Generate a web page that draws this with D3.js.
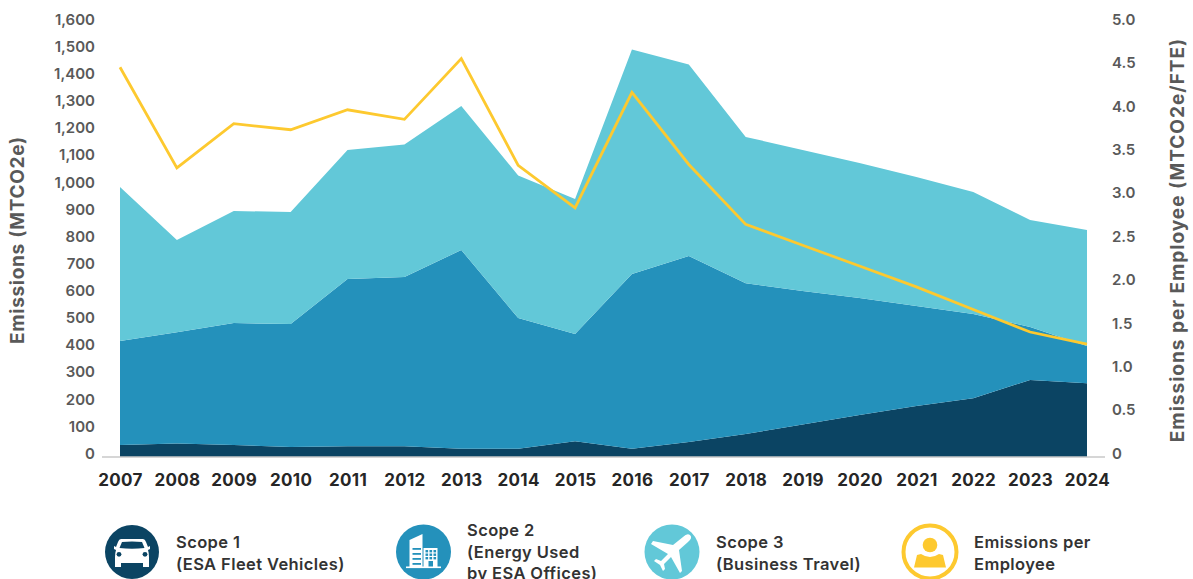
<!DOCTYPE html>
<html>
<head>
<meta charset="utf-8">
<script src="https://cdn.jsdelivr.net/npm/d3@7"></script>
<style>
    html, body { margin: 0; background: #fff; }
    svg { display: block; }
    text { font-family: "Inter", "Noto Sans", sans-serif; }
    .left-axis text, .right-axis text { fill: #595959; font-size: 15px; font-weight: 600; }
    .x-axis text { fill: #262626; font-size: 17px; font-weight: 700; letter-spacing: 0.3px; }
    .axis-title { fill: #595959; font-size: 19px; font-weight: 700; }
    .legend-label { fill: #333; font-size: 16.5px; font-weight: 600; letter-spacing: 0.4px; }
</style>
</head>
<body>
<div id="chart"></div>
<script>
const years = [2007, 2008, 2009, 2010, 2011, 2012, 2013, 2014, 2015, 2016, 2017, 2018, 2019, 2020, 2021, 2022, 2023, 2024];

// values
const scope1 = [44, 50, 44, 37, 40, 40, 30, 30, 58, 30, 55, 85, 120, 155, 188, 217, 284, 272];
const scope2 = [384, 410, 450, 453, 616, 624, 733, 482, 395, 645, 686, 556, 492, 431, 369, 310, 195, 137];
const scope3 = [567, 340, 413, 413, 476, 488, 531, 526, 498, 827, 706, 539, 520, 498, 475, 450, 395, 428];
const perEmployee = [4.49, 3.33, 3.84, 3.77, 4.0, 3.89, 4.59, 3.36, 2.87, 4.2, 3.37, 2.68, 2.44, 2.2, 1.96, 1.7, 1.44, 1.3];

const leftTicks = d3.range(0, 1601, 100);
const rightTicks = [0, 0.5, 1, 1.5, 2, 2.5, 3, 3.5, 4, 4.5, 5];

const seriesKeys = ["scope1", "scope2", "scope3"];
const seriesColors = ["#0b4463", "#2491bb", "#62c8d8"];
const lineColor = "#fdc92f";

const width = 1193, height = 579;
const margin = {top: 23, right: 106, bottom: 122, left: 120};

const svg = d3.select("#chart").append("svg")
    .attr("width", width)
    .attr("height", height);

// Scales
const x = d3.scalePoint().domain(years).range([margin.left, width - margin.right]);
const yLeft = d3.scaleLinear().domain([0, 1600]).range([height - margin.bottom, margin.top]);
const yRight = d3.scaleLinear().domain([0, 5]).range([height - margin.bottom, margin.top]);

const table = years.map((year, i) => ({year: year, scope1: scope1[i], scope2: scope2[i], scope3: scope3[i]}));
const stacked = d3.stack().keys(seriesKeys)(table);

const area = d3.area()
    .x(d => x(d.data.year))
    .y0(d => yLeft(d[0]))
    .y1(d => yLeft(d[1]));

svg.selectAll(".area")
    .data(stacked)
    .enter().append("path")
    .attr("class", "area")
    .attr("d", area)
    .attr("fill", (d, i) => seriesColors[i]);

// baseline sticks out a bit on both sides
svg.append("line")
    .attr("x1", margin.left - 18).attr("x2", width - margin.right + 18)
    .attr("y1", yLeft(0)).attr("y2", yLeft(0))
    .attr("stroke", "#c8c8c8").attr("stroke-width", 1.5);

svg.append("path")
    .datum(perEmployee)
    .attr("fill", "none")
    .attr("stroke", lineColor)
    .attr("stroke-width", 2.8)
    .attr("d", d3.line().x((d, i) => x(years[i])).y(d => yRight(d)));

// Axes
const leftAxis = d3.axisLeft(yLeft).tickValues(leftTicks).tickSize(0).tickPadding(0)
    .tickFormat(d3.format(","));
svg.append("g").attr("class", "left-axis")
    .attr("transform", "translate(95,-3.5)")
    .call(leftAxis)
    .call(g => g.select(".domain").remove());

const rightAxis = d3.axisRight(yRight).tickValues(rightTicks).tickSize(0).tickPadding(0)
    .tickFormat(d => d === 0 ? "0" : d3.format(".1f")(d));
svg.append("g").attr("class", "right-axis")
    .attr("transform", "translate(1112,-3.5)")
    .call(rightAxis)
    .call(g => g.select(".domain").remove());

const xAxis = d3.axisBottom(x).tickSize(0).tickPadding(0).tickFormat(d3.format("d"));
svg.append("g").attr("class", "x-axis")
    .attr("transform", "translate(0,474)")
    .call(xAxis)
    .call(g => g.select(".domain").remove());

svg.append("text").attr("class", "axis-title")
    .attr("transform", "translate(24,240) rotate(-90)")
    .attr("text-anchor", "middle")
    .attr("letter-spacing", 0.7)
    .text("Emissions (MTCO2e)");

svg.append("text").attr("class", "axis-title")
    .attr("transform", "translate(1184,240) rotate(-90)")
    .attr("text-anchor", "middle")
    .attr("letter-spacing", 1)
    .text("Emissions per Employee (MTCO2e/FTE)");

// Legend
const legendItems = [
    {cx: 132, color: seriesColors[0], textX: 176, lines: ["Scope 1", "(ESA Fleet Vehicles)"], y0: 548, icon: carIcon},
    {cx: 423.5, color: seriesColors[1], textX: 467, lines: ["Scope 2", "(Energy Used", "by ESA Offices)"], y0: 536, icon: buildingIcon},
    {cx: 672, color: seriesColors[2], textX: 716, lines: ["Scope 3", "(Business Travel)"], y0: 548, icon: planeIcon},
    {cx: 930, color: lineColor, textX: 974, lines: ["Emissions per", "Employee"], y0: 548, icon: personIcon}
];

legendItems.forEach(item => {
    const g = svg.append("g").attr("transform", "translate(" + item.cx + ",552)");
    item.icon(g, item.color);
    item.lines.forEach((line, i) => {
        svg.append("text").attr("class", "legend-label")
            .attr("x", item.textX)
            .attr("y", item.y0 + i * 21.5)
            .text(line);
    });
});

function carIcon(g, color) {
    g.append("circle").attr("r", 27).attr("fill", color);
    g.append("path").attr("fill", "#fff")
        .attr("d", "M-11,-13 L11,-13 Q13,-13 14,-10 L16,-5 L18,-6 L18,-3 L16,-2 Q17,1 17,5 L17,15 L11,15 L11,11 L-11,11 L-11,15 L-17,15 L-17,5 Q-17,1 -16,-2 L-18,-3 L-18,-6 L-16,-5 L-14,-10 Q-13,-13 -11,-13 Z");
    g.append("path").attr("fill", color)
        .attr("d", "M-10,-10 Q0,-11 10,-10 L12.5,-4 Q0,-2.5 -12.5,-4 Z");
    g.append("circle").attr("cx", -13).attr("cy", 2.3).attr("r", 2.4).attr("fill", color);
    g.append("circle").attr("cx", 13).attr("cy", 2.3).attr("r", 2.4).attr("fill", color);
}

function buildingIcon(g, color) {
    g.append("circle").attr("r", 27.5).attr("fill", color);
    g.append("path").attr("fill", "#fff")
        .attr("d", "M-14,-12 L-1,-18 L-1,15 L-14,15 Z");
    g.append("rect").attr("x", 0).attr("y", -4).attr("width", 14).attr("height", 19).attr("fill", "#fff");
    [-4, 1, 6, 11].forEach(y => {
        g.append("rect").attr("x", -11).attr("y", y).attr("width", 8.5).attr("height", 1.8).attr("fill", color);
    });
    [-2, 1.5, 5].forEach(y => {
        [2, 6, 10].forEach(dx => {
            g.append("rect").attr("x", dx).attr("y", y).attr("width", 2.6).attr("height", 2.4).attr("fill", color);
        });
    });
    g.append("rect").attr("x", 5).attr("y", 9).attr("width", 4.5).attr("height", 6).attr("fill", color);
    g.append("rect").attr("x", -17.5).attr("y", 14.5).attr("width", 35).attr("height", 1.6).attr("fill", "#fff");
}

function planeIcon(g, color) {
    g.append("circle").attr("r", 27.5).attr("fill", color);
    g.append("path").attr("fill", "#fff")
        .attr("d", "M18,-17 Q21,-14 16,-10 L7,-2 L10,19 L8,21 L-1,5 L-8,12 L-7,17 L-9,19 L-12,13 L-18,9 L-16,7 L-11,9 L-4,2 L-21,-8 L-19,-11 L1,-7 L11,-15 Q15,-19 18,-17 Z");
}

function personIcon(g, color) {
    g.append("circle").attr("r", 26.5).attr("fill", "#fff").attr("stroke", color).attr("stroke-width", 4);
    g.append("circle").attr("cy", -7).attr("r", 7.3).attr("fill", color);
    g.append("path").attr("fill", color)
        .attr("d", "M-9,2 Q0,8 9,2 L13,3 L16,15.5 L-16,15.5 L-13,3 Z");
}
</script>
</body>
</html>
